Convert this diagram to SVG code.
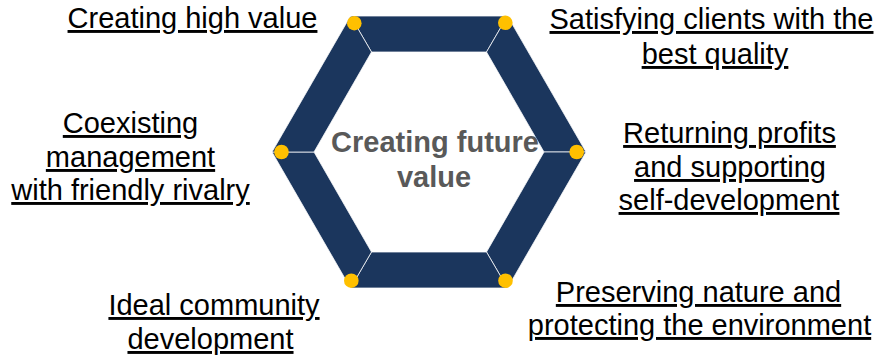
<svg xmlns="http://www.w3.org/2000/svg" width="881" height="358" viewBox="0 0 881 358">
<style>
.seg{fill:#1B365D;stroke:#ffffff;stroke-width:1;stroke-opacity:0.75;stroke-linejoin:miter}
.dot{fill:#FFC000}
.lbl{font-family:"Liberation Sans",Arial,sans-serif;font-size:29px;fill:#000000;text-anchor:middle;text-decoration:underline;text-decoration-skip-ink:none}
.ctr{font-family:"Liberation Sans",Arial,sans-serif;font-size:29px;font-weight:bold;fill:#595959;text-anchor:middle}
</style>
<rect width="881" height="358" fill="#ffffff"/>
<g id="hexagon">
<polygon class="seg" points="350.5,16 507.5,16 486.5,52 371.5,52"/>
<polygon class="seg" points="507.5,16 586,152 544,152 486.5,52"/>
<polygon class="seg" points="586,152 507.5,288 486.5,252 544,152"/>
<polygon class="seg" points="507.5,288 350.5,288 371.5,252 486.5,252"/>
<polygon class="seg" points="350.5,288 272,152 314,152 371.5,252"/>
<polygon class="seg" points="272,152 350.5,16 371.5,52 314,152"/>
</g>
<g id="dots">
<circle class="dot" cx="354.3" cy="23.2" r="7.3"/>
<circle class="dot" cx="505.3" cy="22.8" r="7.3"/>
<circle class="dot" cx="281.5" cy="152" r="7.3"/>
<circle class="dot" cx="576.7" cy="152" r="7.3"/>
<circle class="dot" cx="351.3" cy="280.7" r="7.3"/>
<circle class="dot" cx="505.5" cy="280.7" r="7.3"/>
</g>
<g id="center">
<text class="ctr" x="435" y="152">Creating future</text>
<text class="ctr" x="434" y="187">value</text>
</g>
<g id="label-high-value">
<text class="lbl" x="192.5" y="28">Creating high value</text>
</g>
<g id="label-clients">
<text class="lbl" x="711.5" y="29">Satisfying clients with the</text>
<text class="lbl" x="715" y="64">best quality</text>
</g>
<g id="label-coexisting">
<text class="lbl" x="130.5" y="133">Coexisting</text>
<text class="lbl" x="130.5" y="167">management</text>
<text class="lbl" x="130.5" y="200">with friendly rivalry</text>
</g>
<g id="label-profits">
<text class="lbl" x="729.5" y="143">Returning profits</text>
<text class="lbl" x="730" y="177">and supporting</text>
<text class="lbl" x="729" y="210">self-development</text>
</g>
<g id="label-community">
<text class="lbl" x="214" y="315">Ideal community</text>
<text class="lbl" x="210.5" y="349">development</text>
</g>
<g id="label-nature">
<text class="lbl" x="698.5" y="302">Preserving nature and</text>
<text class="lbl" x="699.5" y="335">protecting the environment</text>
</g>
</svg>
